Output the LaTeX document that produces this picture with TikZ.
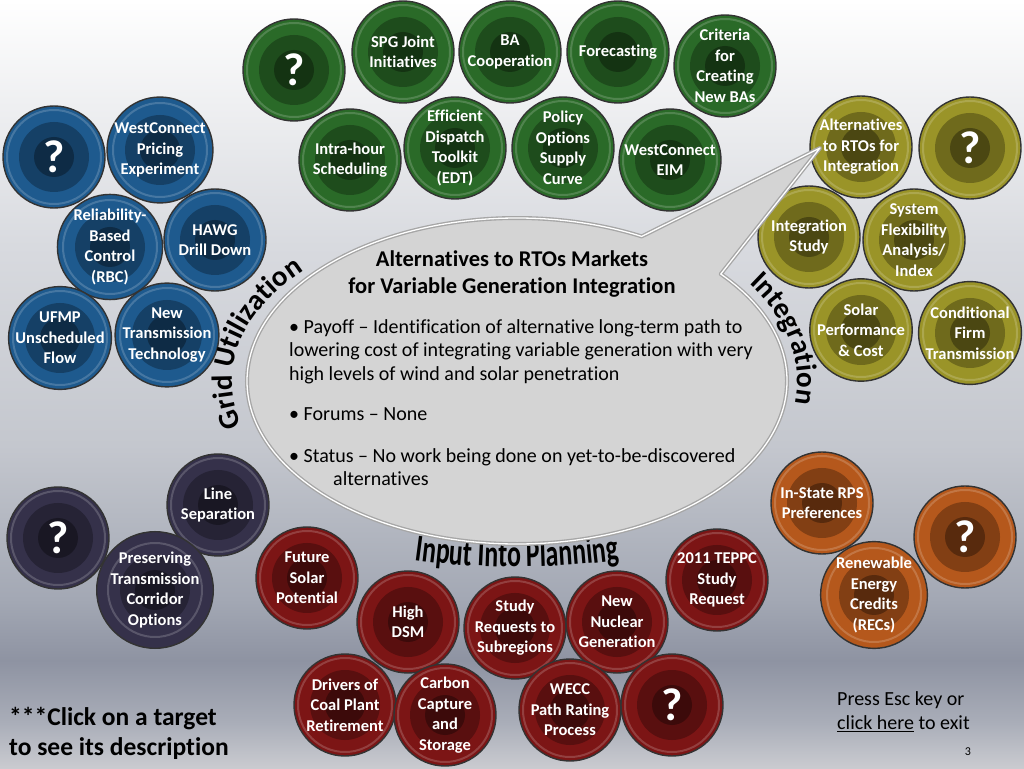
\documentclass[tikz,border=0pt]{standalone}
\usepackage{fontspec}
\setmainfont{Carlito}[Ligatures=NoCommon]
\newfontfamily\planfont[FakeStretch=0.68]{Carlito}
\usepackage{tikz}
\usetikzlibrary{calc,decorations.text}

\definecolor{tgreen}{HTML}{2A6A28}
\definecolor{tblue}{HTML}{1E5A8E}
\definecolor{tpurple}{HTML}{35314A}
\definecolor{tred}{HTML}{7C1515}
\definecolor{torange}{HTML}{B5581C}
\definecolor{tolive}{HTML}{9A9428}
\definecolor{bubblefill}{HTML}{D4D4D4}
\definecolor{bgbot}{HTML}{CACBD0}
\definecolor{bglow}{HTML}{A9ADB8}
\definecolor{bgdark}{HTML}{8E93A2}
\definecolor{bgmid}{HTML}{A3A8B4}
\definecolor{bglight}{HTML}{C4C7CE}
\definecolor{bgpale}{HTML}{D8DADF}
\pgfdeclareverticalshading{slidebg}{100bp}{color(0bp)=(bgbot); color(25bp)=(bgbot);
  color(28bp)=(bglow); color(32bp)=(bgdark); color(36bp)=(bgmid); color(46bp)=(bglight);
  color(59bp)=(bgpale); color(75bp)=(white); color(100bp)=(white)}

\begin{document}
\begin{tikzpicture}[
    x=1pt, y=1pt,
    target/.style={circle, draw=black!80, line width=1.4pt, minimum size=102pt, inner sep=0pt,
      align=center, text=white, font=\bfseries\fontsize{16.5}{20.5}\selectfont,
      path picture={
        \fill[black, opacity=.28] (path picture bounding box.center) circle (35pt);
        \fill[black, opacity=.32] (path picture bounding box.center) circle (20pt);
        \draw[white, opacity=.18, line width=2pt] (path picture bounding box.center) circle (47pt);
      }},
    grntgt/.style={target, fill=tgreen},
    blutgt/.style={target, fill=tblue},
    purtgt/.style={target, fill=tpurple},
    redtgt/.style={target, fill=tred},
    oratgt/.style={target, fill=torange},
    olvtgt/.style={target, fill=tolive},
    qmark/.style={font=\bfseries\fontsize{46}{46}\selectfont},
    bubble/.style={fill=bubblefill, draw=gray!70, line width=4pt, line join=round,
      postaction={draw=white, line width=1.3pt}},
    curved/.style={decorate, decoration={text along path, text align=center, text={#1}}}
]
\useasboundingbox (0,0) rectangle (1024,768);
\shade[shading=slidebg] (0,0) rectangle (1024,768);
\coordinate (bc) at (517,387);
\coordinate (tip) at (820,620);
% Green targets
\node[grntgt, qmark] (gq) at (294,698) {?};
\node[grntgt] (spg) at (403,716) {SPG Joint\\Initiatives};
\node[grntgt] (ba) at (510,716) {BA\\Cooperation};
\node[grntgt] (fcst) at (618,716) {Forecasting};
\node[grntgt] (crit) at (725,702) {Criteria\\for\\Creating\\New BAs};
\node[grntgt] (intra) at (350,608) {Intra-hour\\Scheduling};
\node[grntgt] (edt) at (455,620) {Efficient\\Dispatch\\Toolkit\\(EDT)};
\node[grntgt] (policy) at (563,620) {Policy\\Options\\Supply\\Curve};
\node[grntgt] (eim) at (670,608) {WestConnect\\EIM};
% Blue targets
\node[blutgt, qmark] (bq) at (54,611) {?};
\node[blutgt] (pricing) at (160,618) {WestConnect\\Pricing\\Experiment};
\node[blutgt] (rbc) at (110,521) {Reliability-\\Based\\Control\\(RBC)};
\node[blutgt] (hawg) at (215,528) {HAWG\\Drill Down};
\node[blutgt] (ufmp) at (60,430) {UFMP\\Unscheduled\\Flow};
\node[blutgt] (newtx) at (167,433) {New\\Transmission\\Technology};
% Purple targets
\node[purtgt, qmark] (pq) at (58,230) {?};
\node[purtgt] (linesep) at (218,263) {Line\\Separation};
\node[purtgt] (corridor) at (155,178) {Preserving\\Transmission\\Corridor\\Options};
% Red targets
\node[redtgt] (solar) at (307,190) {Future\\Solar\\Potential};
\node[redtgt] (dsm) at (408,146) {High\\DSM};
\node[redtgt] (subreg) at (515,140) {Study\\Requests to\\Subregions};
\node[redtgt] (nuclear) at (617,146) {New\\Nuclear\\Generation};
\node[redtgt] (teppc) at (717,188) {2011 TEPPC\\Study\\Request};
\node[redtgt] (coal) at (345,63) {Drivers of\\Coal Plant\\Retirement};
\node[redtgt] (ccs) at (445,53) {Carbon\\Capture\\and\\Storage};
\node[redtgt] (wecc) at (570,58) {WECC\\Path Rating\\Process};
\node[redtgt, qmark] (rq) at (672,63) {?};
% Orange targets
\node[oratgt] (rps) at (822,265) {In-State RPS\\Preferences};
\node[oratgt, qmark] (oq) at (965,231) {?};
\node[oratgt] (recs) at (874,173) {Renewable\\Energy\\Credits\\(RECs)};
% Olive targets
\node[olvtgt] (alt) at (861,621) {Alternatives\\to RTOs for\\Integration};
\node[olvtgt, qmark] (yq) at (970,620) {?};
\node[olvtgt] (intstudy) at (809,531) {Integration\\Study};
\node[olvtgt] (flex) at (914,528) {System\\Flexibility\\Analysis/\\Index};
\node[olvtgt] (solarperf) at (861,438) {Solar\\Performance\\\& Cost};
\node[olvtgt] (condfirm) at (970,435) {Conditional\\Firm\\Transmission};
% Curved group labels
\path[curved={|\bfseries\fontsize{29}{29}\selectfont|Grid Utilization}]
  ($(bc)+(201:285pt and 166pt)$) arc[start angle=201, end angle=134, x radius=285pt, y radius=166pt];
\path[curved={|\bfseries\fontsize{29}{29}\selectfont|Integration}]
  ($(bc)+(36:280pt and 174pt)$) arc[start angle=36, end angle=-10, x radius=280pt, y radius=174pt];
\path[curved={|\planfont\bfseries\fontsize{38}{38}\selectfont|Input Into Planning}]
  ($(bc)+(250:380pt and 186pt)$) arc[start angle=250, end angle=290, x radius=380pt, y radius=186pt];
% Speech bubble
\path[bubble] ($(bc)+(62.5:270pt and 163pt)$) -- (tip) -- ($(bc)+(41:270pt and 163pt)$)
  arc[start angle=41, end angle=-297.5, x radius=270pt, y radius=163pt] -- cycle;
\node[font=\bfseries\fontsize{22.5}{27}\selectfont, align=center] (title) at (512,494)
  {Alternatives to RTOs Markets\\for Variable Generation Integration};
\node[anchor=north west, align=left, inner sep=0pt, font=\fontsize{20}{23.5}\selectfont] (body) at (289,449)
  {• Payoff – Identification of alternative long-term path to\\
   lowering cost of integrating variable generation with very\\
   high levels of wind and solar penetration\\[17pt]
   • Forums – None\\[18pt]
   • Status – No work being done on yet-to-be-discovered\\
   \hspace*{44pt}alternatives};
% Notes
\node[anchor=west, align=left, inner sep=0pt, font=\bfseries\fontsize{25.5}{30}\selectfont] (hint) at (9,35)
  {***Click on a target\\to see its description};
\node[anchor=west, align=left, inner sep=0pt, font=\fontsize{20}{24}\selectfont] (exitnote) at (837,56)
  {Press Esc key or\\\underline{click here} to exit};
\node[font=\fontsize{12}{12}\selectfont] (pagenum) at (968,16) {3};
\end{tikzpicture}
\end{document}
